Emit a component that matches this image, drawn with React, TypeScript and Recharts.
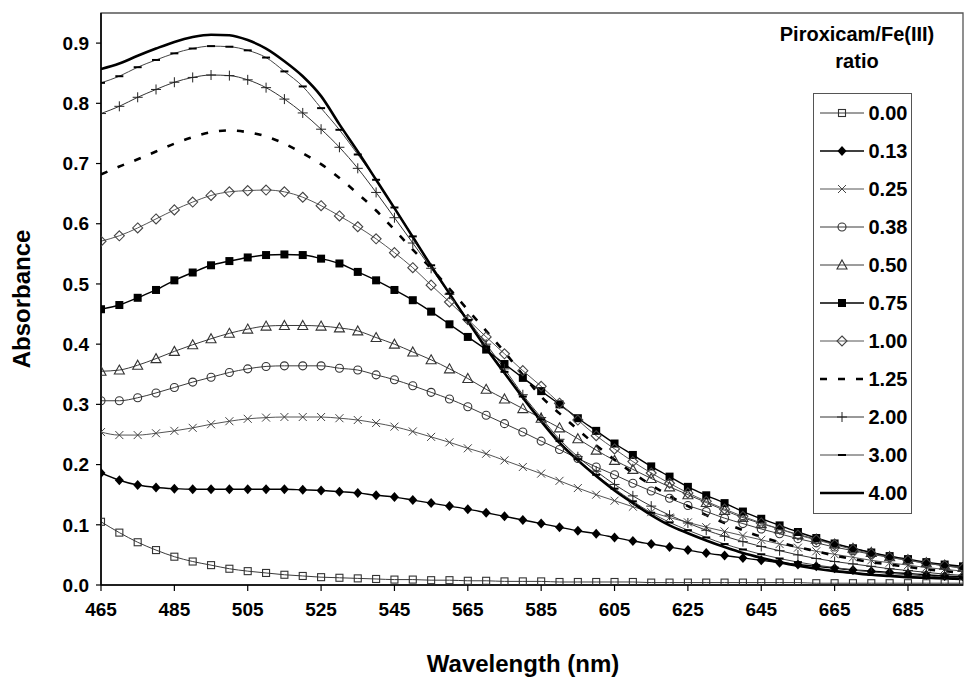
import React from 'react';
import { LineChart, Line, XAxis, YAxis, ReferenceArea, Label } from 'recharts';

const FONT = '"Liberation Sans", Arial, Helvetica, sans-serif';

// Wavelength grid (nm)
const wavelengths = [
  465, 470, 475, 480, 485, 490, 495, 500, 505, 510,
  515, 520, 525, 530, 535, 540, 545, 550, 555, 560,
  565, 570, 575, 580, 585, 590, 595, 600, 605, 610,
  615, 620, 625, 630, 635, 640, 645, 650, 655, 660,
  665, 670, 675, 680, 685, 690, 695, 700,
];

// Absorbance for each Piroxicam/Fe(III) ratio
const r000 = [
  0.105, 0.087, 0.071, 0.058, 0.047, 0.039, 0.033, 0.027, 0.023, 0.020,
  0.017, 0.015, 0.013, 0.012, 0.011, 0.010, 0.009, 0.009, 0.008, 0.008,
  0.007, 0.007, 0.006, 0.006, 0.006, 0.005, 0.005, 0.005, 0.005, 0.005,
  0.004, 0.004, 0.004, 0.004, 0.004, 0.004, 0.004, 0.004, 0.004, 0.003,
  0.003, 0.003, 0.003, 0.003, 0.003, 0.003, 0.003, 0.003,
];
const r013 = [
  0.186, 0.174, 0.166, 0.162, 0.160, 0.159, 0.159, 0.159, 0.159, 0.159,
  0.159, 0.158, 0.157, 0.155, 0.153, 0.149, 0.146, 0.141, 0.136, 0.131,
  0.126, 0.120, 0.114, 0.108, 0.102, 0.096, 0.090, 0.085, 0.079, 0.073,
  0.068, 0.063, 0.058, 0.053, 0.049, 0.045, 0.041, 0.037, 0.034, 0.031,
  0.028, 0.025, 0.023, 0.021, 0.019, 0.017, 0.015, 0.014,
];
const r025 = [
  0.254, 0.249, 0.249, 0.252, 0.256, 0.261, 0.267, 0.272, 0.276, 0.278,
  0.279, 0.279, 0.279, 0.277, 0.274, 0.269, 0.263, 0.255, 0.246, 0.237,
  0.227, 0.218, 0.207, 0.196, 0.185, 0.173, 0.161, 0.150, 0.140, 0.130,
  0.121, 0.112, 0.104, 0.096, 0.089, 0.082, 0.075, 0.068, 0.062, 0.056,
  0.051, 0.046, 0.041, 0.037, 0.033, 0.029, 0.026, 0.023,
];
const r038 = [
  0.306, 0.306, 0.311, 0.319, 0.328, 0.337, 0.345, 0.353, 0.359, 0.363,
  0.364, 0.364, 0.364, 0.360, 0.357, 0.349, 0.341, 0.331, 0.320, 0.309,
  0.296, 0.282, 0.268, 0.254, 0.239, 0.225, 0.210, 0.196, 0.183, 0.169,
  0.156, 0.144, 0.132, 0.122, 0.111, 0.102, 0.093, 0.085, 0.077, 0.070,
  0.063, 0.057, 0.051, 0.046, 0.041, 0.036, 0.032, 0.028,
];
const r050 = [
  0.355, 0.357, 0.365, 0.376, 0.388, 0.399, 0.409, 0.418, 0.425, 0.430,
  0.431, 0.431, 0.430, 0.427, 0.422, 0.411, 0.400, 0.387, 0.374, 0.359,
  0.343, 0.325, 0.309, 0.293, 0.277, 0.261, 0.243, 0.224, 0.207, 0.192,
  0.177, 0.163, 0.150, 0.137, 0.124, 0.112, 0.102, 0.093, 0.084, 0.076,
  0.068, 0.061, 0.054, 0.047, 0.042, 0.037, 0.033, 0.029,
];
const r075 = [
  0.458, 0.465, 0.477, 0.490, 0.506, 0.519, 0.531, 0.538, 0.544, 0.548,
  0.549, 0.548, 0.542, 0.534, 0.520, 0.506, 0.490, 0.473, 0.454, 0.433,
  0.412, 0.391, 0.367, 0.344, 0.322, 0.300, 0.277, 0.256, 0.235, 0.216,
  0.197, 0.180, 0.163, 0.149, 0.136, 0.122, 0.110, 0.099, 0.088, 0.078,
  0.069, 0.061, 0.054, 0.048, 0.043, 0.038, 0.034, 0.031,
];
const r100 = [
  0.571, 0.580, 0.593, 0.608, 0.623, 0.636, 0.647, 0.653, 0.655, 0.656,
  0.653, 0.644, 0.630, 0.613, 0.595, 0.575, 0.552, 0.527, 0.498, 0.470,
  0.441, 0.412, 0.384, 0.356, 0.330, 0.302, 0.274, 0.248, 0.226, 0.205,
  0.186, 0.169, 0.153, 0.139, 0.126, 0.114, 0.103, 0.093, 0.083, 0.075,
  0.067, 0.059, 0.052, 0.046, 0.041, 0.036, 0.032, 0.028,
];
const r125 = [
  0.682, 0.695, 0.707, 0.720, 0.733, 0.744, 0.752, 0.755, 0.752, 0.745,
  0.733, 0.717, 0.699, 0.676, 0.650, 0.622, 0.590, 0.557, 0.526, 0.492,
  0.457, 0.422, 0.387, 0.349, 0.313, 0.285, 0.258, 0.232, 0.208, 0.186,
  0.166, 0.148, 0.131, 0.116, 0.103, 0.091, 0.080, 0.071, 0.063, 0.056,
  0.049, 0.043, 0.038, 0.034, 0.030, 0.026, 0.023, 0.020,
];
const r200 = [
  0.783, 0.795, 0.810, 0.823, 0.835, 0.843, 0.847, 0.846, 0.839, 0.826,
  0.807, 0.784, 0.757, 0.727, 0.692, 0.652, 0.610, 0.568, 0.526, 0.483,
  0.441, 0.400, 0.359, 0.316, 0.278, 0.242, 0.213, 0.189, 0.167, 0.148,
  0.131, 0.116, 0.103, 0.091, 0.081, 0.072, 0.064, 0.057, 0.050, 0.044,
  0.039, 0.035, 0.031, 0.027, 0.024, 0.021, 0.018, 0.016,
];
const r300 = [
  0.834, 0.845, 0.860, 0.872, 0.883, 0.891, 0.895, 0.894, 0.888, 0.876,
  0.853, 0.828, 0.792, 0.756, 0.715, 0.673, 0.627, 0.579, 0.531, 0.484,
  0.440, 0.396, 0.354, 0.313, 0.275, 0.239, 0.209, 0.183, 0.160, 0.139,
  0.120, 0.104, 0.091, 0.079, 0.068, 0.059, 0.051, 0.044, 0.038, 0.033,
  0.029, 0.025, 0.022, 0.019, 0.017, 0.015, 0.013, 0.012,
];
const r400 = [
  0.857, 0.866, 0.879, 0.891, 0.902, 0.910, 0.914, 0.913, 0.905, 0.891,
  0.870, 0.845, 0.812, 0.765, 0.720, 0.673, 0.626, 0.578, 0.530, 0.484,
  0.438, 0.393, 0.352, 0.311, 0.272, 0.236, 0.207, 0.181, 0.157, 0.136,
  0.116, 0.099, 0.086, 0.074, 0.063, 0.053, 0.045, 0.038, 0.032, 0.027,
  0.023, 0.020, 0.017, 0.015, 0.013, 0.012, 0.011, 0.010,
];

const ratioLabels = ['0.00', '0.13', '0.25', '0.38', '0.50', '0.75', '1.00', '1.25', '2.00', '3.00', '4.00'];
const xTicks = [465, 485, 505, 525, 545, 565, 585, 605, 625, 645, 665, 685];
const yTicks = [0, 0.1, 0.2, 0.3, 0.4, 0.5, 0.6, 0.7, 0.8, 0.9];

type MarkerKind =
  | 'squareOpen' | 'diamondFilled' | 'cross' | 'circleOpen' | 'triangleOpen'
  | 'squareFilled' | 'diamondOpen' | 'plus' | 'dash' | 'none';

interface SeriesDef {
  key: string;
  name: string;
  values: number[];
  marker: MarkerKind;
  color: string;
  width: number;
  dash?: string;
}

const seriesDefs: SeriesDef[] = [
  { key: 'r000', name: ratioLabels[0], values: r000, marker: 'squareOpen', color: '#3a3a3a', width: 1 },
  { key: 'r013', name: ratioLabels[1], values: r013, marker: 'diamondFilled', color: '#000', width: 1.4 },
  { key: 'r025', name: ratioLabels[2], values: r025, marker: 'cross', color: '#555', width: 1 },
  { key: 'r038', name: ratioLabels[3], values: r038, marker: 'circleOpen', color: '#3a3a3a', width: 1 },
  { key: 'r050', name: ratioLabels[4], values: r050, marker: 'triangleOpen', color: '#3a3a3a', width: 1 },
  { key: 'r075', name: ratioLabels[5], values: r075, marker: 'squareFilled', color: '#000', width: 1.4 },
  { key: 'r100', name: ratioLabels[6], values: r100, marker: 'diamondOpen', color: '#555', width: 1 },
  { key: 'r125', name: ratioLabels[7], values: r125, marker: 'none', color: '#000', width: 2.6, dash: '7 11' },
  { key: 'r200', name: ratioLabels[8], values: r200, marker: 'plus', color: '#333', width: 1 },
  { key: 'r300', name: ratioLabels[9], values: r300, marker: 'dash', color: '#444', width: 1 },
  { key: 'r400', name: ratioLabels[10], values: r400, marker: 'none', color: '#000', width: 2.6 },
];

const rows = wavelengths.map((wl, i) => {
  const row: Record<string, number> = { wl };
  seriesDefs.forEach((s) => {
    row[s.key] = s.values[i];
  });
  return row;
});

function markerShape(kind: MarkerKind, cx: number, cy: number) {
  switch (kind) {
    case 'squareOpen':
      return <rect x={cx - 3.5} y={cy - 3.5} width={7} height={7} fill="none" stroke="#333" strokeWidth={1.1} />;
    case 'diamondFilled':
      return <polygon points={`${cx},${cy - 5} ${cx + 4.5},${cy} ${cx},${cy + 5} ${cx - 4.5},${cy}`} fill="#000" />;
    case 'cross':
      return (
        <path
          d={`M${cx - 4},${cy - 4}L${cx + 4},${cy + 4}M${cx - 4},${cy + 4}L${cx + 4},${cy - 4}`}
          stroke="#444"
          strokeWidth={1}
        />
      );
    case 'circleOpen':
      return <circle cx={cx} cy={cy} r={4} fill="none" stroke="#333" strokeWidth={1.1} />;
    case 'triangleOpen':
      return (
        <polygon
          points={`${cx},${cy - 5} ${cx + 5},${cy + 4} ${cx - 5},${cy + 4}`}
          fill="none"
          stroke="#333"
          strokeWidth={1.1}
        />
      );
    case 'squareFilled':
      return <rect x={cx - 4} y={cy - 4} width={8} height={8} fill="#000" />;
    case 'diamondOpen':
      return (
        <polygon
          points={`${cx},${cy - 5} ${cx + 5},${cy} ${cx},${cy + 5} ${cx - 5},${cy}`}
          fill="none"
          stroke="#444"
          strokeWidth={1.1}
        />
      );
    case 'plus':
      return (
        <path d={`M${cx - 5},${cy}L${cx + 5},${cy}M${cx},${cy - 5}L${cx},${cy + 5}`} stroke="#222" strokeWidth={1} />
      );
    case 'dash':
      return <path d={`M${cx - 4},${cy}L${cx + 4},${cy}`} stroke="#000" strokeWidth={2} />;
    default:
      return null;
  }
}

const tickStyle = { fill: '#000', fontSize: 19, fontWeight: 'bold' as const, fontFamily: FONT };

function LegendSample({ s }: { s: SeriesDef }) {
  return (
    <svg width={44} height={16} style={{ display: 'block', flex: 'none' }}>
      <line x1={0} y1={8} x2={44} y2={8} stroke={s.color} strokeWidth={s.width} strokeDasharray={s.dash} />
      {markerShape(s.marker, 22, 8)}
    </svg>
  );
}

export default function App() {
  return (
    <div
      style={{
        position: 'absolute',
        left: 0,
        top: 0,
        width: 967,
        height: 682,
        background: '#fff',
        fontFamily: FONT,
      }}
    >
      <LineChart width={967} height={682} data={rows} margin={{ top: 13, right: 4, bottom: 0, left: 0 }}>
        <ReferenceArea x1={465} x2={700} y1={0} y2={0.95} fill="none" stroke="#555" strokeWidth={1.3} />
        <XAxis
          dataKey="wl"
          type="number"
          domain={[465, 700]}
          ticks={xTicks}
          height={97}
          tickSize={6}
          tickMargin={12}
          tick={tickStyle}
          axisLine={{ stroke: '#000', strokeWidth: 1.6 }}
          tickLine={{ stroke: '#000', strokeWidth: 1.2 }}
          allowDataOverflow
        >
          <Label
            content={(props: any) => {
              const vb = props.viewBox || {};
              return (
                <text
                  x={vb.x + vb.width / 2 - 9}
                  y={vb.y + vb.height - 10}
                  textAnchor="middle"
                  fontSize={24}
                  fontWeight="bold"
                  fontFamily={FONT}
                  fill="#000"
                >
                  Wavelength (nm)
                </text>
              );
            }}
          />
        </XAxis>
        <YAxis
          type="number"
          domain={[0, 0.95]}
          ticks={yTicks}
          width={101}
          tickSize={5}
          tickMargin={7}
          tick={tickStyle}
          tickFormatter={(v: number) => v.toFixed(1)}
          axisLine={{ stroke: '#000', strokeWidth: 1.6 }}
          tickLine={{ stroke: '#000', strokeWidth: 1.2 }}
          allowDataOverflow
        >
          <Label
            content={(props: any) => {
              const vb = props.viewBox || {};
              const cx = vb.x + 22;
              const cy = vb.y + vb.height / 2;
              return (
                <text
                  x={cx}
                  y={cy}
                  dy="0.35em"
                  transform={`rotate(-90 ${cx} ${cy})`}
                  textAnchor="middle"
                  fontSize={24}
                  fontWeight="bold"
                  fontFamily={FONT}
                  fill="#000"
                >
                  Absorbance
                </text>
              );
            }}
          />
        </YAxis>
        {seriesDefs.map((s) => (
          <Line
            key={s.key}
            dataKey={s.key}
            name={s.name}
            type="monotone"
            stroke={s.color}
            strokeWidth={s.width}
            strokeDasharray={s.dash}
            isAnimationActive={false}
            activeDot={false}
            dot={
              s.marker === 'none'
                ? false
                : (p: any) => <g key={`${s.key}-${p.index}`}>{markerShape(s.marker, p.cx, p.cy)}</g>
            }
          />
        ))}
      </LineChart>

      <div
        style={{
          position: 'absolute',
          left: 767,
          top: 21,
          width: 180,
          textAlign: 'center',
          fontWeight: 'bold',
          fontSize: 20,
          lineHeight: '27px',
          color: '#000',
        }}
      >
        Piroxicam/Fe(III)
        <br />
        ratio
      </div>

      <div
        style={{
          position: 'absolute',
          left: 813,
          top: 93,
          width: 99,
          height: 421,
          border: '1.5px solid #555',
          boxSizing: 'border-box',
          background: '#fff',
        }}
      >
        {seriesDefs.map((s) => (
          <div key={s.key} style={{ height: 38, display: 'flex', alignItems: 'center' }}>
            <div style={{ marginLeft: 5.5 }}>
              <LegendSample s={s} />
            </div>
            <span style={{ marginLeft: 5, fontSize: 20, fontWeight: 'bold', color: '#000' }}>{s.name}</span>
          </div>
        ))}
      </div>
    </div>
  );
}
